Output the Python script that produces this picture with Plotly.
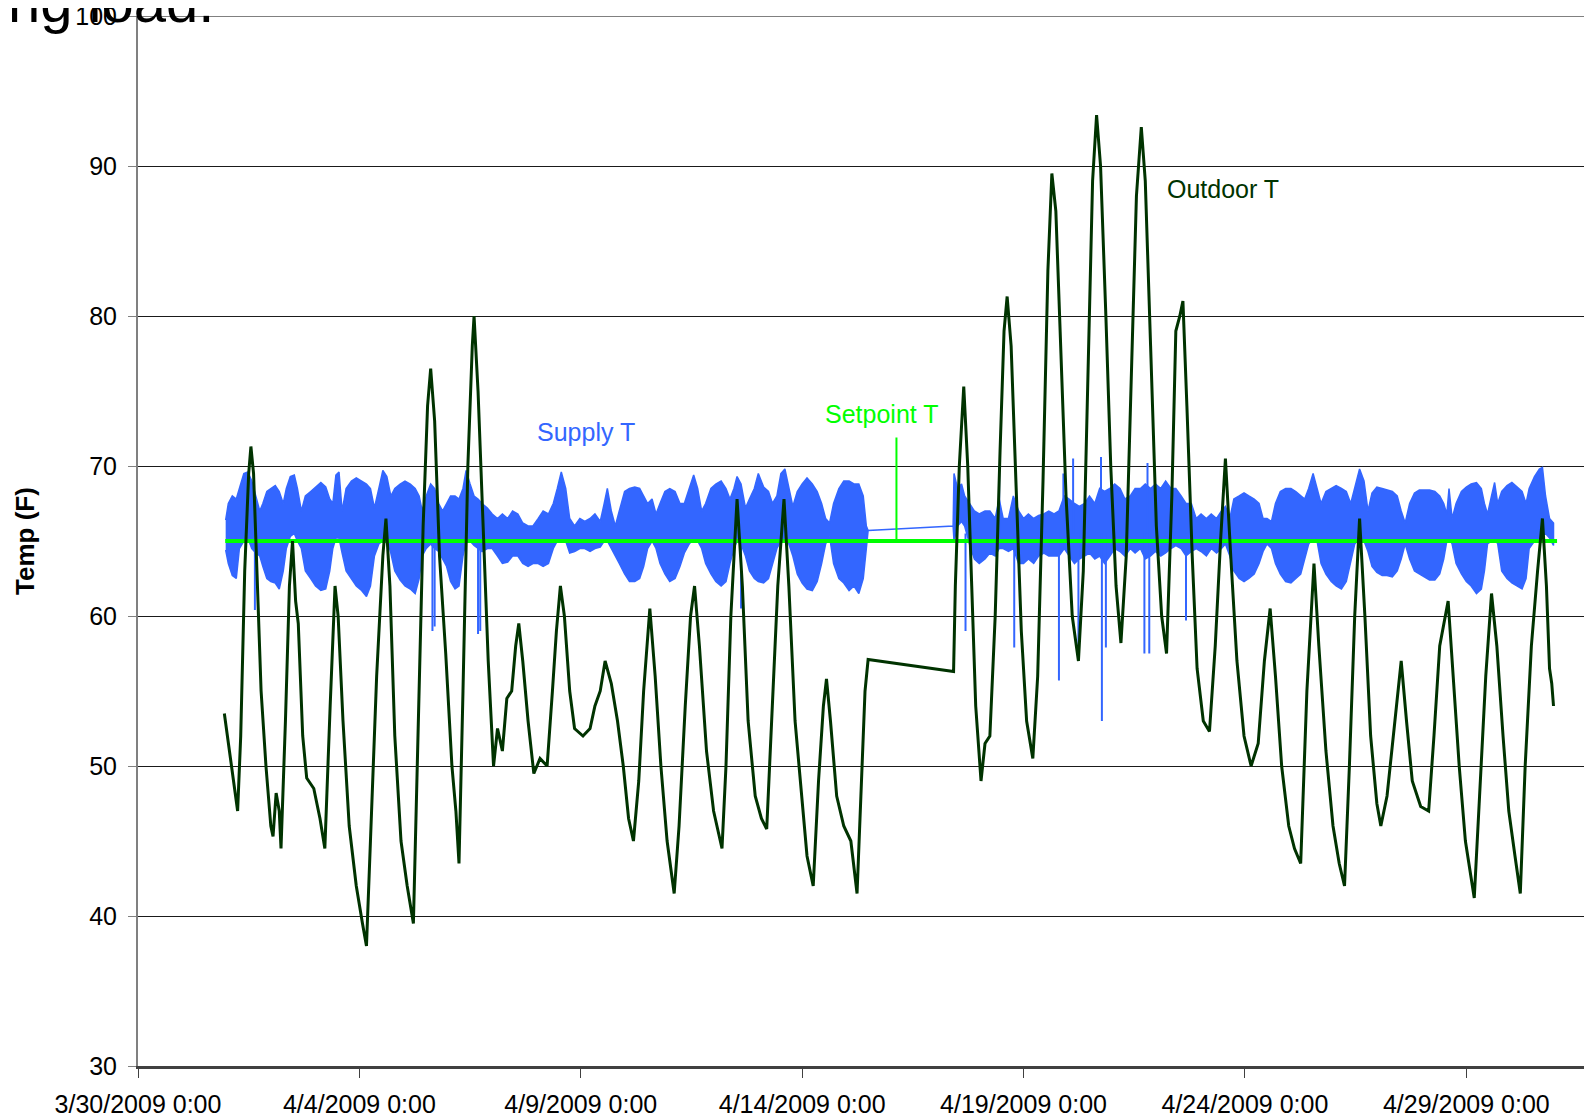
import pandas as pd
import plotly.graph_objects as go

BASE = pd.Timestamp("2009-03-30 00:00")

# ---------------- data (day offsets from 3/30/2009 0:00) ----------------
outdoor_day = [
    1.95, 2.04, 2.13, 2.25, 2.32, 2.41, 2.50, 2.55, 2.61, 2.68, 2.78, 2.89, 3.00, 3.05, 3.12, 3.19, 3.23,
    3.33, 3.42, 3.49, 3.56, 3.62, 3.72, 3.81, 3.97, 4.11, 4.22, 4.34, 4.45, 4.52, 4.63, 4.77, 4.93, 5.07,
    5.16, 5.25, 5.39, 5.53, 5.60, 5.69, 5.80, 5.94, 6.08, 6.22, 6.33, 6.44, 6.54, 6.61, 6.70, 6.81, 6.95,
    7.09, 7.18, 7.25, 7.34, 7.45, 7.55, 7.59, 7.68, 7.80, 7.91, 8.03, 8.12, 8.23, 8.33, 8.44, 8.53, 8.60,
    8.69, 8.81, 8.94, 9.08, 9.24, 9.36, 9.45, 9.54, 9.63, 9.75, 9.86, 10.05, 10.21, 10.32, 10.44, 10.55,
    10.69, 10.83, 10.96, 11.08, 11.19, 11.31, 11.42, 11.56, 11.68, 11.81, 11.95, 12.11, 12.22, 12.36,
    12.48, 12.57, 12.68, 12.84, 13.00, 13.19, 13.28, 13.39, 13.53, 13.65, 13.78, 13.94, 14.08, 14.20,
    14.31, 14.45, 14.59, 14.70, 14.84, 14.98, 15.11, 15.25, 15.37, 15.48, 15.55, 15.64, 15.78, 15.94,
    16.10, 16.24, 16.33, 16.42, 16.49, 18.42, 18.46, 18.55, 18.65, 18.74, 18.83, 18.92, 19.04, 19.13,
    19.24, 19.36, 19.47, 19.56, 19.63, 19.72, 19.84, 19.95, 20.07, 20.21, 20.32, 20.44, 20.55, 20.64,
    20.73, 20.85, 20.96, 21.10, 21.24, 21.35, 21.47, 21.56, 21.65, 21.74, 21.86, 21.97, 22.09, 22.20,
    22.32, 22.43, 22.55, 22.66, 22.75, 22.87, 23.00, 23.12, 23.23, 23.35, 23.44, 23.53, 23.60, 23.69,
    23.81, 23.92, 24.06, 24.20, 24.33, 24.45, 24.56, 24.68, 24.82, 24.98, 25.14, 25.30, 25.44, 25.57,
    25.69, 25.83, 25.99, 26.12, 26.26, 26.40, 26.56, 26.67, 26.83, 26.99, 27.13, 27.25, 27.36, 27.48,
    27.59, 27.71, 27.84, 27.98, 28.07, 28.21, 28.35, 28.46, 28.53, 28.65, 28.78, 28.97, 29.15, 29.27,
    29.40, 29.59, 29.70, 29.84, 29.98, 30.18, 30.30, 30.44, 30.57, 30.69, 30.83, 30.96, 31.10, 31.22,
    31.33, 31.47, 31.61, 31.72, 31.81, 31.88, 31.93, 31.97,
]
outdoor_temp = [
    53.5, 51.5, 49.5, 47.0, 52.0, 63.0, 69.5, 71.3, 69.5, 63.0, 55.0, 50.0, 46.0, 45.3, 48.2, 47.0, 44.5,
    53.0, 62.0, 65.0, 61.0, 59.5, 52.0, 49.2, 48.5, 46.5, 44.5, 54.0, 62.0, 60.0, 53.0, 46.0, 42.0, 39.5,
    38.0, 45.0, 56.0, 64.0, 66.5, 62.0, 52.0, 45.0, 42.0, 39.5, 52.0, 66.0, 74.0, 76.5, 73.0, 64.0, 57.5,
    50.0, 47.0, 43.5, 55.0, 70.0, 78.0, 80.0, 75.0, 65.0, 57.0, 50.0, 52.5, 51.0, 54.5, 55.0, 58.0, 59.5,
    57.0, 53.0, 49.5, 50.5, 50.0, 55.0, 59.0, 62.0, 60.0, 55.0, 52.5, 52.0, 52.5, 54.0, 55.0, 57.0,
    55.5, 53.0, 50.0, 46.5, 45.0, 49.0, 55.0, 60.5, 56.0, 50.0, 45.0, 41.5, 46.0, 54.0,
    60.0, 62.0, 58.0, 51.0, 47.0, 44.5, 50.0, 60.0, 67.8, 62.0, 53.0, 48.0, 46.5, 45.8,
    53.0, 62.0, 67.8, 62.0, 53.0, 48.5, 44.0, 42.0, 49.0, 54.0, 55.8, 53.0, 48.0, 46.0,
    45.0, 41.5, 48.0, 55.0, 57.1, 56.3, 62.0, 70.0, 75.3, 70.0, 62.0, 54.0, 49.0, 51.5,
    52.0, 60.0, 71.0, 79.0, 81.3, 78.0, 68.0, 59.0, 53.0, 50.5, 56.0, 69.0, 83.0, 89.5,
    87.0, 77.0, 68.0, 60.0, 57.0, 63.0, 78.0, 89.0, 93.4, 90.0, 80.0, 70.0, 62.0, 58.2,
    64.0, 76.0, 88.0, 92.6, 89.0, 78.0, 66.0, 60.0, 57.5, 68.0, 79.0, 80.0, 81.0, 74.0,
    64.0, 56.5, 53.0, 52.3, 58.0, 65.0, 70.5, 64.0, 57.0, 52.0, 50.0, 51.5, 57.0, 60.5,
    56.0, 50.0, 46.0, 44.5, 43.5, 55.0, 63.5, 58.0, 51.0, 46.0, 43.5, 42.0, 50.0, 60.0,
    66.5, 60.0, 52.0, 47.5, 46.0, 48.0, 52.0, 55.0, 57.0, 53.0, 49.0, 47.3, 47.0, 52.0,
    58.0, 61.0, 56.0, 50.0, 45.0, 41.2, 48.0, 56.0, 61.5, 58.0, 52.0, 47.0, 44.0, 41.5,
    50.0, 58.0, 63.0, 66.5, 62.0, 56.5, 55.5, 54.0,
]

supply_day = [
    1.98, 2.04, 2.13, 2.22, 2.29, 2.39, 2.48, 2.57, 2.66, 2.75, 2.82, 2.91, 3.00, 3.10, 3.19, 3.28, 3.35,
    3.44, 3.53, 3.60, 3.69, 3.78, 3.90, 4.01, 4.13, 4.24, 4.33, 4.40, 4.47, 4.54, 4.61, 4.70, 4.82, 4.93,
    5.05, 5.16, 5.25, 5.34, 5.44, 5.53, 5.62, 5.71, 5.80, 5.92, 6.03, 6.15, 6.26, 6.35, 6.42, 6.51, 6.61,
    6.70, 6.79, 6.88, 6.97, 7.06, 7.16, 7.25, 7.34, 7.41, 7.50, 7.59, 7.68, 7.77, 7.89, 8.00, 8.12, 8.23,
    8.35, 8.46, 8.58, 8.69, 8.81, 8.92, 9.04, 9.15, 9.27, 9.38, 9.47, 9.56, 9.66, 9.75, 9.86, 9.98,
    10.09, 10.21, 10.32, 10.44, 10.53, 10.60, 10.69, 10.78, 10.87, 10.99, 11.10, 11.22, 11.33, 11.42,
    11.51, 11.61, 11.70, 11.79, 11.90, 12.01, 12.13, 12.24, 12.34, 12.45, 12.55, 12.64, 12.73, 12.82,
    12.94, 13.05, 13.17, 13.28, 13.37, 13.46, 13.53, 13.62, 13.72, 13.81, 13.92, 14.01, 14.13, 14.24,
    14.33, 14.43, 14.52, 14.61, 14.70, 14.79, 14.89, 15.00, 15.11, 15.23, 15.34, 15.44, 15.53, 15.62,
    15.71, 15.83, 15.94, 16.06, 16.17, 16.28, 16.38, 16.45, 16.49,
    18.41, 18.43, 18.51, 18.60, 18.67, 18.78, 18.89, 19.00, 19.13, 19.24, 19.36, 19.45, 19.54, 19.66,
    19.77, 19.89, 20.00, 20.11, 20.23, 20.34, 20.46, 20.57, 20.69, 20.80, 20.92, 21.03, 21.15, 21.26,
    21.38, 21.49, 21.61, 21.72, 21.83, 21.95, 22.06, 22.18, 22.29, 22.41, 22.52, 22.64, 22.75, 22.87,
    22.98, 23.10, 23.21, 23.33, 23.44, 23.56, 23.67, 23.79, 23.90, 24.01, 24.13, 24.24, 24.36, 24.47,
    24.56, 24.66, 24.75, 24.87, 24.98, 25.09, 25.21, 25.32, 25.41, 25.50, 25.60, 25.69, 25.80, 25.92,
    26.04, 26.15, 26.26, 26.35, 26.44, 26.54, 26.63, 26.72, 26.83, 26.95, 27.06, 27.18, 27.29, 27.39,
    27.48, 27.59, 27.69, 27.78, 27.87, 27.98, 28.10, 28.21, 28.33, 28.44, 28.53, 28.62, 28.72, 28.83,
    28.94, 29.06, 29.17, 29.29, 29.40, 29.49, 29.56, 29.61, 29.68, 29.77, 29.89, 30.00, 30.11, 30.23,
    30.34, 30.41, 30.48, 30.57, 30.64, 30.71, 30.80, 30.92, 31.03, 31.15, 31.26, 31.35, 31.42, 31.54,
    31.65, 31.72, 31.79, 31.88, 31.97,
]
supply_hi = [
    66.4, 67.5, 68.0, 67.8, 68.5, 69.5, 69.6, 69.0, 68.0, 67.0, 67.5, 68.3, 68.5, 68.7, 68.3, 67.5, 68.5,
    69.3, 69.4, 68.5, 67.0, 68.0, 68.3, 68.6, 68.9, 68.6, 67.8, 67.5, 69.4, 69.6, 67.0, 68.5, 69.0, 69.2,
    69.0, 68.8, 68.5, 67.2, 68.5, 69.7, 69.3, 68.0, 68.5, 68.8, 69.0, 68.8, 68.5, 68.0, 67.0, 68.0, 68.8,
    68.5, 67.5, 67.0, 67.5, 68.0, 68.0, 67.8, 68.5, 69.7, 68.8, 68.0, 67.8, 67.5, 67.2, 66.8, 66.5, 66.8,
    66.5, 67.0, 66.8, 66.2, 66.0, 66.0, 66.5, 67.0, 66.8, 67.5, 68.5, 69.6, 68.5, 66.5, 66.0, 66.5,
    66.3, 66.5, 66.8, 66.3, 67.5, 68.5, 67.0, 66.0, 67.0, 68.3, 68.5, 68.6, 68.5, 68.0,
    67.5, 67.8, 66.8, 67.5, 68.3, 68.5, 68.3, 67.5, 67.5, 68.5, 69.4, 68.5, 67.0, 67.5,
    68.5, 68.8, 69.0, 68.5, 67.8, 68.5, 69.3, 68.8, 67.2, 67.8, 68.5, 69.5, 68.6, 68.3,
    67.5, 68.0, 69.5, 69.8, 68.5, 67.3, 68.3, 68.8, 69.2, 68.8, 68.3, 67.5, 66.5, 66.2,
    67.5, 68.5, 69.0, 69.0, 68.8, 68.8, 68.0, 66.0, 65.7,
    66.0, 69.5, 68.5, 68.8, 68.0, 67.5, 67.0, 66.8, 67.0, 67.0, 66.5, 67.8, 66.5, 66.5,
    68.0, 67.0, 66.5, 66.8, 66.5, 66.7, 66.8, 67.0, 66.8, 67.0, 68.0, 67.8, 67.5, 67.3,
    67.5, 68.0, 67.5, 68.5, 68.3, 68.5, 68.8, 68.5, 67.8, 68.0, 68.5, 68.5, 68.8, 68.5,
    68.8, 68.5, 69.0, 68.5, 68.5, 68.0, 67.5, 67.5, 66.5, 66.8, 66.5, 66.8, 66.5, 67.0,
    67.3, 66.5, 67.8, 68.0, 68.2, 68.0, 67.8, 67.5, 66.5, 66.5, 66.3, 67.5, 68.3, 68.5,
    68.5, 68.3, 68.0, 67.8, 68.5, 69.5, 68.5, 67.5, 68.3, 68.5, 68.7, 68.5, 68.3, 67.5,
    68.5, 69.8, 69.0, 67.0, 68.2, 68.6, 68.5, 68.4, 68.3, 68.0, 67.0, 66.2, 67.5, 68.2,
    68.4, 68.4, 68.4, 68.3, 68.0, 67.5, 66.8, 68.5, 66.5, 67.5, 68.3, 68.6, 68.8, 68.9,
    68.5, 67.5, 66.8, 68.0, 68.9, 67.5, 68.3, 68.7, 68.9, 68.6, 68.3, 67.5, 68.5, 69.3,
    69.8, 69.9, 68.0, 66.5, 66.2,
]
supply_lo = [
    64.4, 63.5, 62.7, 62.5, 64.5, 65.0, 65.2, 64.5, 64.2, 64.0, 63.3, 62.5, 62.3, 62.2, 61.8, 63.0, 64.5,
    65.3, 65.5, 65.0, 64.5, 63.0, 62.5, 62.0, 61.7, 61.8, 63.0, 64.5, 65.2, 65.2, 64.2, 63.0, 62.5, 62.0,
    61.7, 61.3, 62.0, 64.0, 64.8, 65.0, 65.2, 64.2, 63.0, 62.4, 62.0, 61.8, 61.5, 62.5, 64.0, 64.5, 64.8,
    64.5, 64.3, 63.8, 63.3, 62.3, 61.8, 62.0, 64.0, 65.0, 65.0, 64.7, 64.5, 64.3, 64.5, 64.5, 64.0, 63.5,
    63.6, 64.0, 64.0, 63.5, 63.3, 63.5, 63.5, 63.3, 63.5, 64.5, 65.0, 65.2, 65.0, 64.2, 64.3, 64.5,
    64.5, 64.3, 64.5, 64.6, 65.0, 65.0, 64.5, 64.0, 63.5, 62.8, 62.3, 62.3, 62.5, 63.3,
    64.5, 65.0, 64.5, 63.5, 62.8, 62.3, 62.5, 63.3, 64.2, 64.8, 65.2, 65.0, 64.5, 63.5,
    62.8, 62.3, 62.0, 62.3, 63.5, 64.5, 65.0, 64.8, 64.0, 63.0, 62.5, 62.3, 62.2, 62.5,
    63.5, 64.5, 65.0, 65.0, 64.8, 64.0, 62.8, 62.2, 61.8, 61.7, 62.3, 63.5, 64.8, 65.3,
    63.5, 62.5, 62.2, 61.7, 62.0, 61.5, 62.5, 64.5, 65.7,
    66.0, 65.0, 66.0, 66.3, 66.0, 64.8, 63.8, 63.5, 63.8, 64.2, 64.0, 64.5, 64.5, 64.3,
    64.5, 63.5, 63.5, 63.8, 63.5, 64.0, 64.2, 64.0, 64.0, 64.0, 64.5, 64.0, 63.5, 63.8,
    64.0, 64.2, 63.8, 64.0, 63.5, 64.0, 64.5, 64.3, 64.0, 64.5, 64.2, 64.5, 63.8, 64.0,
    64.3, 64.0, 64.2, 64.5, 64.7, 64.5, 64.0, 64.3, 64.5, 64.3, 64.0, 64.5, 64.2, 64.5,
    64.8, 64.0, 63.0, 62.5, 62.3, 62.5, 62.8, 63.5, 64.3, 64.8, 64.5, 63.5, 62.8, 62.3,
    62.2, 62.5, 62.8, 63.8, 64.8, 65.2, 65.0, 63.5, 62.8, 62.3, 62.0, 61.8, 62.3, 63.5,
    64.8, 65.2, 65.0, 64.3, 63.3, 62.9, 62.7, 62.7, 62.6, 63.0, 63.8, 64.8, 63.8, 63.0,
    62.8, 62.6, 62.4, 62.4, 62.8, 63.8, 65.0, 65.2, 64.8, 63.5, 62.8, 62.3, 62.0, 61.5,
    61.8, 63.0, 64.8, 65.0, 65.2, 64.8, 63.0, 62.5, 62.2, 62.0, 61.8, 62.5, 64.5, 65.0,
    65.2, 65.3, 65.5, 65.2, 64.7,
]

spike_day = [2.64, 6.65, 6.70, 7.68, 7.73, 13.62, 18.69, 19.79, 20.80, 21.24, 21.77, 21.86, 22.73, 22.84,
             23.67, 19.45, 20.90, 21.12, 21.75, 22.80]
spike_temp = [60.4, 59.0, 59.3, 58.8, 59.0, 60.5, 59.0, 57.9, 55.7, 57.5, 53.0, 57.9, 57.5, 57.5,
              59.7, 70.0, 69.5, 70.5, 70.6, 70.2]
spike_base = 65.5

setpoint_day = [1.97, 32.05]
setpoint_temp = [65.0, 65.0]

tick_day = [0, 5, 10, 15, 20, 25, 30]
tick_text = ["3/30/2009 0:00", "4/4/2009 0:00", "4/9/2009 0:00", "4/14/2009 0:00",
             "4/19/2009 0:00", "4/24/2009 0:00", "4/29/2009 0:00"]
y_ticks = [30, 40, 50, 60, 70, 80, 90, 100]
x_end_day = 33.02


def to_time(days):
    return [BASE + pd.Timedelta(days=d) for d in days]


FONT = "Liberation Sans, Arial, sans-serif"
BLUE = "#3366FF"
DARK = "#003300"
LIME = "#00FF00"

# page body adds an 8px offset; plot area is laid out so it lands at window x=138, y=16..1066
PLOT_W = 1462

fig = go.Figure()

# Supply T band (upper envelope forward, lower envelope back)
poly_x = to_time(supply_day) + to_time(supply_day[::-1])
poly_y = supply_hi + supply_lo[::-1]
fig.add_trace(go.Scatter(x=poly_x, y=poly_y, mode="lines", fill="toself", fillcolor=BLUE,
                         line=dict(color=BLUE, width=1.5), hoverinfo="skip", showlegend=False))

# Supply T spikes
sx, sy = [], []
for d, v in zip(spike_day, spike_temp):
    t = BASE + pd.Timedelta(days=d)
    sx += [t, t, None]
    sy += [spike_base, v, None]
fig.add_trace(go.Scatter(x=sx, y=sy, mode="lines", line=dict(color=BLUE, width=2),
                         hoverinfo="skip", showlegend=False))

# Setpoint T
fig.add_trace(go.Scatter(x=to_time(setpoint_day), y=setpoint_temp, mode="lines",
                         line=dict(color=LIME, width=4), showlegend=False))

# Outdoor T
fig.add_trace(go.Scatter(x=to_time(outdoor_day), y=outdoor_temp, mode="lines",
                         line=dict(color=DARK, width=3), showlegend=False))

# leader line for setpoint label
lead_t = BASE + pd.Timedelta(days=17.13)
fig.add_shape(type="line", xref="x", yref="y", x0=lead_t, x1=lead_t, y0=71.9, y1=65.0,
              line=dict(color=LIME, width=2))

# top frame line at 100
fig.add_shape(type="line", xref="paper", yref="y", x0=0, x1=1, y0=100, y1=100,
              line=dict(color="#808080", width=2))

ann_font = dict(family=FONT, size=25)
fig.add_annotation(x=BASE + pd.Timedelta(days=23.2), y=88.45, text="Outdoor T", showarrow=False,
                   xanchor="left", yanchor="middle", font=dict(ann_font, color=DARK))
fig.add_annotation(x=BASE + pd.Timedelta(days=8.97), y=72.25, text="Supply T", showarrow=False,
                   xanchor="left", yanchor="middle", font=dict(ann_font, color=BLUE))
fig.add_annotation(x=BASE + pd.Timedelta(days=15.47), y=73.45, text="Setpoint T", showarrow=False,
                   xanchor="left", yanchor="middle", font=dict(ann_font, color=LIME))

# y-axis title
fig.add_annotation(xref="paper", yref="paper", x=(25 - 138) / PLOT_W, y=0.5, text="<b>Temp (F)</b>",
                   textangle=-90, showarrow=False, xanchor="center", yanchor="middle",
                   font=dict(family=FONT, size=26, color="black"))

# cropped slide text at the very top
fig.add_annotation(xref="paper", yref="paper", x=(216 - 138) / PLOT_W, y=1 + 15 / 1050,
                   text="ing load.", showarrow=False, xanchor="right", yanchor="middle",
                   font=dict(family=FONT, size=58, color="black"))

fig.update_layout(
    width=1592, height=1117,
    margin=dict(l=130, r=0, t=8, b=59, autoexpand=False),
    paper_bgcolor="white", plot_bgcolor="white",
    font=dict(family=FONT, color="black"),
    showlegend=False,
    xaxis=dict(
        range=[BASE, BASE + pd.Timedelta(days=x_end_day)],
        tickvals=to_time(tick_day), ticktext=tick_text,
        showgrid=False, zeroline=False, automargin=False,
        showline=True, linecolor="#404040", linewidth=3,
        ticks="outside", ticklen=9, tickwidth=1, tickcolor="#404040",
        tickfont=dict(family=FONT, size=25, color="black"),
        ticklabelstandoff=5, ticklabeloverflow="allow",
    ),
    yaxis=dict(
        range=[30, 100], tickvals=y_ticks,
        showgrid=True, gridcolor="#1a1a1a", gridwidth=1, zeroline=False, automargin=False,
        showline=True, linecolor="#808080", linewidth=2,
        ticks="outside", ticklen=8, tickwidth=1, tickcolor="#808080",
        tickfont=dict(family=FONT, size=25, color="black"),
        ticklabelstandoff=6, ticklabeloverflow="allow",
    ),
)

fig.write_html("out.html")
